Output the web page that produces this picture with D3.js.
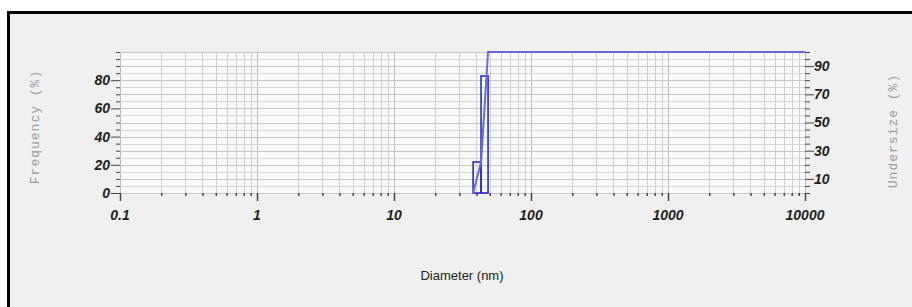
<!DOCTYPE html>
<html>
<head>
<meta charset="utf-8">
<script src="https://cdn.jsdelivr.net/npm/d3@7.9.0/dist/d3.min.js"></script>
<style>
  html, body { margin: 0; padding: 0; background: #fff; }
  svg { display: block; }
</style>
</head>
<body>
<div id="chart"></div>
<script>
// frequency histogram (bin edges in nm, value in %)
const binLo = [37.8, 43.2];
const binHi = [43.2, 48.6];
const freqValues = [22, 83];

// cumulative undersize curve
const cumDiameter = [37.8, 43.2, 48.6, 10000];
const cumUndersize = [0, 22, 100, 100];

const xTickValues = [0.1, 1, 10, 100, 1000, 10000];
const xTickLabels = ['0.1', '1', '10', '100', '1000', '10000'];
const leftTicks = [0, 20, 40, 60, 80];
const rightTicks = [10, 30, 50, 70, 90];

const width = 912;
const height = 307;
const plot = { left: 120, right: 805, top: 52, bottom: 193 };

const svg = d3.select('#chart').append('svg')
  .attr('width', width)
  .attr('height', height);

// frame
svg.append('rect')
  .attr('x', 8.5).attr('y', 12.5)
  .attr('width', width + 20).attr('height', height + 20)
  .attr('fill', '#f0f0f0')
  .attr('stroke', '#000')
  .attr('stroke-width', 3);

const x = d3.scaleLog()
  .domain([0.1, 10000])
  .range([plot.left, plot.right]);

const y = d3.scaleLinear()
  .domain([0, 100])
  .range([plot.bottom, plot.top]);

// plot background
svg.append('rect')
  .attr('x', plot.left).attr('y', plot.top)
  .attr('width', plot.right - plot.left)
  .attr('height', plot.bottom - plot.top)
  .attr('fill', '#fafafa');

// minor log ticks
const minorX = [];
for (let e = -1; e < 4; e++) {
  for (let m = 1; m < 10; m++) minorX.push(m * Math.pow(10, e));
}
minorX.push(10000);

// vertical gridlines
svg.append('g')
  .selectAll('line')
  .data(minorX)
  .join('line')
  .attr('x1', d => Math.round(x(d)) + 0.5)
  .attr('x2', d => Math.round(x(d)) + 0.5)
  .attr('y1', plot.top)
  .attr('y2', plot.bottom)
  .attr('stroke', d => xTickValues.includes(d) ? '#bdbdbd' : '#d0d0d0')
  .attr('stroke-width', 1);

// horizontal gridlines every 5 %
svg.append('g')
  .selectAll('line')
  .data(d3.range(0, 101, 5))
  .join('line')
  .attr('x1', plot.left)
  .attr('x2', plot.right)
  .attr('y1', d => Math.round(y(d)) + 0.5)
  .attr('y2', d => Math.round(y(d)) + 0.5)
  .attr('stroke', d => d % 10 === 0 ? '#c6c6c6' : '#d6d6d6')
  .attr('stroke-width', 1);

const labelFont = (sel) => sel
  .attr('font-family', 'Liberation Sans, Arial, sans-serif')
  .attr('font-size', 14)
  .attr('font-weight', 'bold')
  .attr('font-style', 'italic')
  .attr('fill', '#1e1e1e');

// left axis
const leftAxis = svg.append('g')
  .attr('transform', `translate(${plot.left}, 0)`)
  .call(d3.axisLeft(y).tickValues(d3.range(0, 101, 5)).tickSize(4).tickFormat(''));
leftAxis.select('.domain').remove();
leftAxis.selectAll('line').attr('stroke', '#444');
leftAxis.selectAll('.tick')
  .filter(d => leftTicks.includes(d))
  .select('line').attr('x2', -9);

svg.append('g')
  .selectAll('text')
  .data(leftTicks)
  .join('text')
  .attr('x', plot.left - 10)
  .attr('y', d => y(d))
  .attr('dy', '0.35em')
  .attr('text-anchor', 'end')
  .call(labelFont)
  .text(d => d);

// right axis
const rightAxis = svg.append('g')
  .attr('transform', `translate(${plot.right}, 0)`)
  .call(d3.axisRight(y).tickValues(d3.range(0, 101, 5)).tickSize(5).tickFormat(''));
rightAxis.select('.domain').remove();
rightAxis.selectAll('line').attr('stroke', '#444');
rightAxis.selectAll('.tick')
  .filter(d => rightTicks.includes(d))
  .select('line').attr('x2', 9);

svg.append('g')
  .selectAll('text')
  .data(rightTicks)
  .join('text')
  .attr('x', plot.right + 9)
  .attr('y', d => y(d))
  .attr('dy', '0.35em')
  .attr('text-anchor', 'start')
  .call(labelFont)
  .text(d => d);

// bottom axis
const bottomAxis = svg.append('g')
  .attr('transform', `translate(0, ${plot.bottom})`)
  .call(d3.axisBottom(x).tickValues(minorX).tickSize(3).tickFormat(''));
bottomAxis.select('.domain').remove();
bottomAxis.selectAll('line').attr('stroke', '#444').attr('stroke-width', 1.5);
bottomAxis.selectAll('.tick')
  .filter(d => xTickValues.includes(d))
  .select('line').attr('y2', 8);

svg.append('g')
  .selectAll('text')
  .data(xTickValues)
  .join('text')
  .attr('x', d => x(d))
  .attr('y', plot.bottom + 27)
  .attr('text-anchor', 'middle')
  .call(labelFont)
  .text((d, i) => xTickLabels[i]);

// frequency bars (outlines)
svg.append('g')
  .selectAll('rect')
  .data(freqValues)
  .join('rect')
  .attr('x', (d, i) => x(binLo[i]))
  .attr('width', (d, i) => x(binHi[i]) - x(binLo[i]))
  .attr('y', d => y(d))
  .attr('height', d => y(0) - y(d))
  .attr('fill', 'none')
  .attr('stroke', '#2a2ac8')
  .attr('stroke-width', 1.6);

// cumulative undersize
const cum = cumDiameter.map((d, i) => [d, cumUndersize[i]]);
svg.append('path')
  .datum(cum)
  .attr('d', d3.line().x(d => x(d[0])).y(d => y(d[1])))
  .attr('fill', 'none')
  .attr('stroke', '#6a6ae0')
  .attr('stroke-width', 2);

// axis titles
svg.append('text')
  .attr('transform', `translate(39, 127) rotate(-90)`)
  .attr('text-anchor', 'middle')
  .attr('font-family', 'Liberation Mono, Courier New, monospace')
  .attr('font-size', 13)
  .attr('letter-spacing', 1)
  .attr('fill', '#9a9a9a')
  .text('Frequency (%)');

svg.append('text')
  .attr('transform', `translate(897, 131) rotate(-90)`)
  .attr('text-anchor', 'middle')
  .attr('font-family', 'Liberation Mono, Courier New, monospace')
  .attr('font-size', 13)
  .attr('letter-spacing', 1)
  .attr('fill', '#9a9a9a')
  .text('Undersize (%)');

svg.append('text')
  .attr('x', 462)
  .attr('y', 280)
  .attr('text-anchor', 'middle')
  .attr('font-family', 'Liberation Sans, Arial, sans-serif')
  .attr('font-size', 13)
  .attr('fill', '#222')
  .text('Diameter (nm)');
</script>
</body>
</html>
